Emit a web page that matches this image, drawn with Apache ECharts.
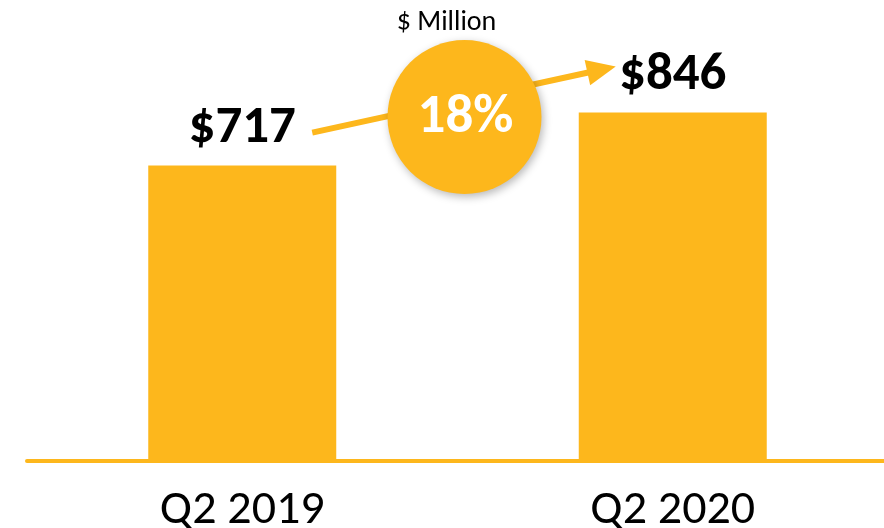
<!DOCTYPE html>
<html>
<head>
<meta charset="utf-8">
<title>Revenue Q2</title>
<script src="https://cdn.jsdelivr.net/npm/echarts@6/dist/echarts.min.js"></script>
<style>
  html, body { margin: 0; padding: 0; background: #ffffff; }
  #chart { width: 884px; height: 528px; }
</style>
</head>
<body>
<div id="chart"></div>
<script>
// Quarterly revenue, $ million
const categories = ['Q2 2019', 'Q2 2020'];
const revenue = [717, 846];
const unitLabel = '$ Million';

const ORANGE = '#FDB71C';
const FONT = 'Carlito, "Liberation Sans Narrow", Lato, sans-serif';

const growthPct = Math.round((revenue[1] - revenue[0]) / revenue[0] * 100);

const chart = echarts.init(document.getElementById('chart'), null, { renderer: 'canvas' });

chart.setOption({
  animation: false,
  backgroundColor: '#ffffff',
  grid: { left: 27, width: 861, top: 49, bottom: 67, containLabel: false, outerBoundsMode: 'none' },
  xAxis: {
    type: 'category',
    data: categories,
    axisTick: { show: false },
    axisLine: { show: true, lineStyle: { color: ORANGE, width: 4 } },
    axisLabel: { color: '#000', fontFamily: FONT, fontSize: 48, margin: 26 }
  },
  yAxis: {
    type: 'value',
    min: 0,
    max: 1000,
    show: false,
    splitLine: { show: false }
  },
  series: [{
    type: 'bar',
    data: revenue,
    barWidth: 188,
    itemStyle: { color: ORANGE },
    label: {
      show: true,
      position: 'top',
      distance: 10,
      color: '#000',
      fontFamily: FONT,
      fontWeight: 'bold',
      fontSize: 53,
      formatter: p => '$' + p.value
    },
    z: 2
  }]
});

// Growth bubble and arrow, anchored to the bar tops
function drawGrowth() {
  const a = chart.convertToPixel({ seriesIndex: 0 }, [0, revenue[0]]);
  const b = chart.convertToPixel({ seriesIndex: 0 }, [1, revenue[1]]);

  const start = [a[0] + 70, a[1] - 33];
  const tip = [b[0] - 57, b[1] - 46];
  const dx = tip[0] - start[0], dy = tip[1] - start[1];
  const len = Math.hypot(dx, dy);
  const ux = dx / len, uy = dy / len;
  const headLen = 29, headHalf = 13;
  const base = [tip[0] - ux * headLen, tip[1] - uy * headLen];
  const px = -uy, py = ux;

  const cx = (a[0] + b[0]) / 2 + 7;
  const cy = (a[1] + b[1]) / 2 - 22;

  chart.setOption({
    graphic: [
      {
        type: 'line',
        shape: { x1: start[0], y1: start[1], x2: base[0] + ux * 2, y2: base[1] + uy * 2 },
        style: { stroke: ORANGE, lineWidth: 6 },
        z: 10
      },
      {
        type: 'polygon',
        shape: {
          points: [
            tip,
            [base[0] + px * headHalf, base[1] + py * headHalf],
            [base[0] - px * headHalf, base[1] - py * headHalf]
          ]
        },
        style: { fill: ORANGE },
        z: 10
      },
      {
        type: 'circle',
        shape: { cx: cx, cy: cy, r: 77 },
        style: {
          fill: ORANGE,
          shadowBlur: 8,
          shadowColor: 'rgba(0,0,0,0.28)',
          shadowOffsetX: 2,
          shadowOffsetY: 3
        },
        z: 11
      },
      {
        type: 'text',
        x: cx + 1,
        y: cy + 1,
        style: {
          text: growthPct + '%',
          fill: '#ffffff',
          font: 'bold 55px ' + FONT,
          align: 'center',
          verticalAlign: 'middle'
        },
        z: 12
      },
      {
        type: 'text',
        x: cx - 18,
        y: 23,
        style: {
          text: unitLabel,
          fill: '#000',
          font: '28px ' + FONT,
          align: 'center',
          verticalAlign: 'middle'
        },
        z: 12
      }
    ]
  });
}

drawGrowth();
</script>
</body>
</html>
